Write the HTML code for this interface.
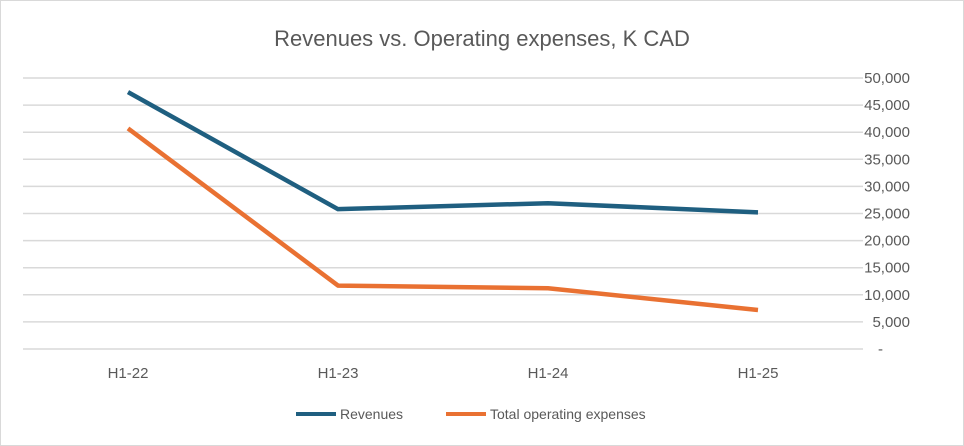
<!DOCTYPE html>
<html><head><meta charset="utf-8"><style>
html,body{margin:0;padding:0;background:#fff;}
svg{display:block;font-family:"Liberation Sans",sans-serif;}
</style></head><body>
<svg id="chart" width="964" height="446" viewBox="0 0 964 446">
<rect x="0.5" y="0.5" width="963" height="445" fill="#fff" stroke="#d9d9d9"/>
<text x="482" y="46" text-anchor="middle" font-size="22" fill="#595959">Revenues vs. Operating expenses, K CAD</text>
<g id="grid"></g><g id="ylabels"></g><g id="xlabels"></g><g id="lines"></g>
<g>
<line x1="296" y1="414" x2="336" y2="414" stroke="#1f5f80" stroke-width="4"/>
<text x="340" y="419" font-size="14" fill="#595959">Revenues</text>
<line x1="446" y1="414" x2="486" y2="414" stroke="#e97132" stroke-width="4"/>
<text x="490" y="419" font-size="14" fill="#595959">Total operating expenses</text>
</g>
</svg>
<script>
const categories=["H1-22","H1-23","H1-24","H1-25"];
const revenues=[47400,25800,26900,25200];
const expenses=[40700,11700,11200,7200];
const yTicks=[0,5000,10000,15000,20000,25000,30000,35000,40000,45000,50000];
const yTickLabels=["-","5,000","10,000","15,000","20,000","25,000","30,000","35,000","40,000","45,000","50,000"];
const NS="http://www.w3.org/2000/svg";
const plotL=23,plotR=863,plotT=78,plotB=349,yMax=50000;
const xs=i=>plotL+(plotR-plotL)/categories.length*(i+0.5);
const ys=v=>plotB-(v/yMax)*(plotB-plotT);
function mk(tag,attrs,parent){const e=document.createElementNS(NS,tag);for(const k in attrs)e.setAttribute(k,attrs[k]);document.getElementById(parent).appendChild(e);return e;}
yTicks.forEach((t,i)=>{
 const g=mk('line',{x1:plotL,x2:plotR,y1:ys(t),y2:ys(t),stroke:'#d9d9d9','stroke-width':1.5},'grid');
 
 
 const l=mk('text',{x:t===0?878:910,y:ys(t)+5,'text-anchor':t===0?'start':'end','font-size':15,fill:'#595959'},'ylabels');
 l.textContent=yTickLabels[i];
 
 
});
categories.forEach((c,i)=>{
 const l=mk('text',{x:xs(i),y:378,'text-anchor':'middle','font-size':15,fill:'#595959'},'xlabels');
 l.textContent=c;
 
 
});
function series(vals,color,name){
 const p=mk('polyline',{points:vals.map((v,i)=>xs(i)+','+ys(v)).join(' '),fill:'none',stroke:color,'stroke-width':4.5,'stroke-linejoin':'round'},'lines');
 
 
}
series(revenues,'#1f5f80','revenues-line');
series(expenses,'#e97132','expenses-line');
</script>
</body></html>
